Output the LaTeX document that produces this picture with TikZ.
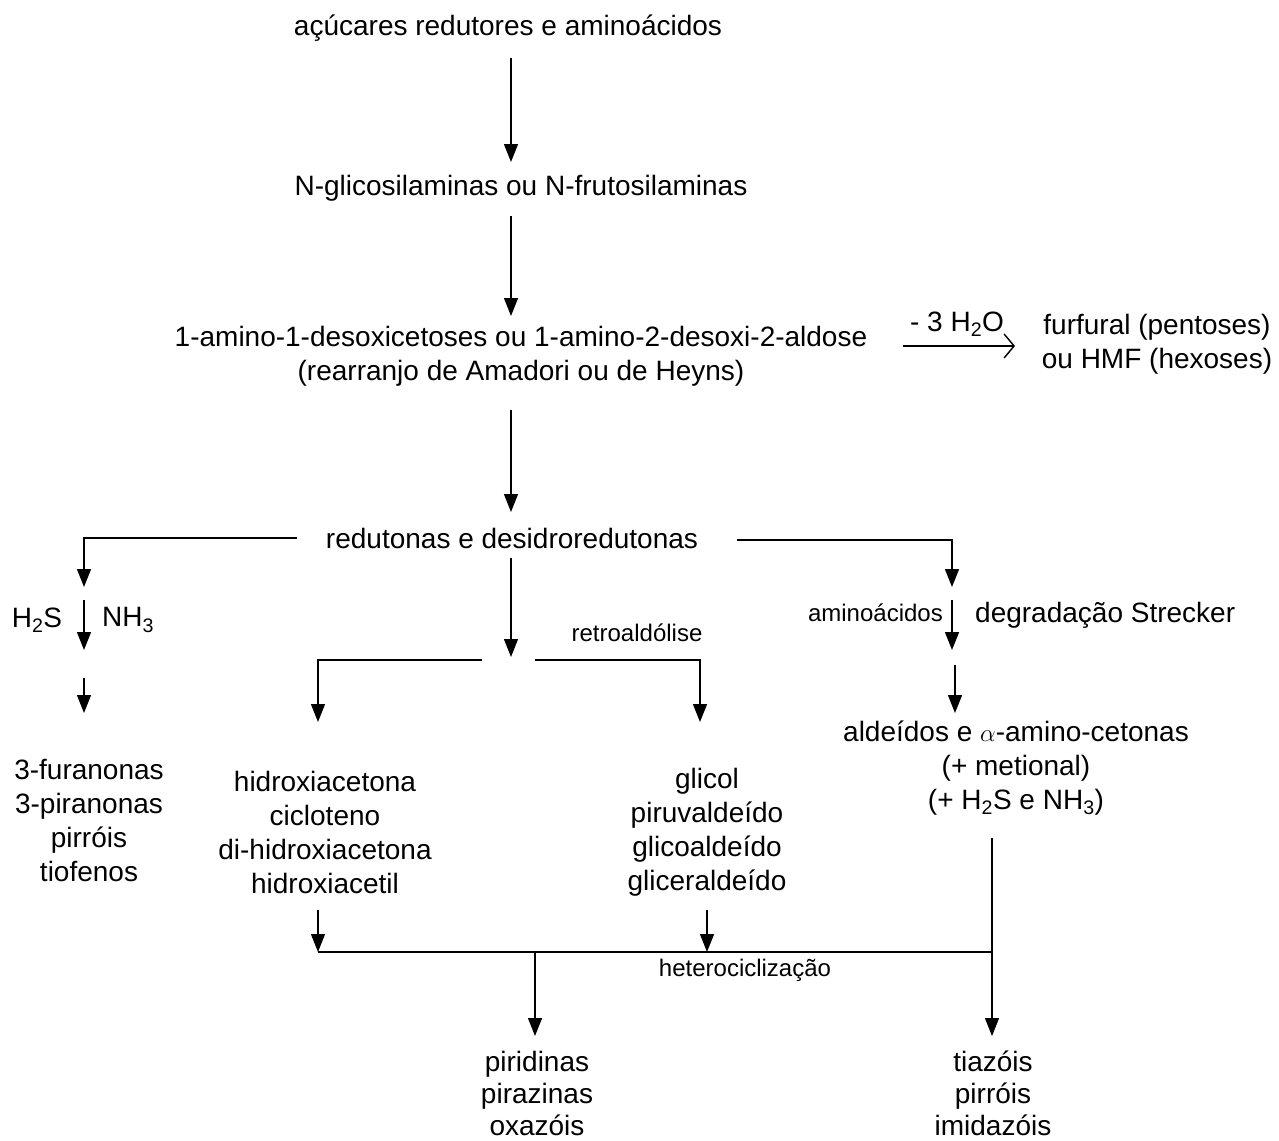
\documentclass[tikz,border=0pt]{standalone}
\usepackage{fontspec}
\setmainfont{Liberation Sans}
\usetikzlibrary{arrows.meta}
\tikzset{
  txt/.style={inner sep=0pt, align=center, font=\fontsize{28}{34}\selectfont},
  btxt/.style={inner sep=0pt, align=center, font=\fontsize{28}{32}\selectfont},
  lbl/.style={inner sep=0pt, align=center, font=\fontsize{24}{28}\selectfont},
  ln/.style={line width=1.4pt},
  arr/.style={ln, -{Triangle[length=18pt,width=14pt]}},
  oarr/.style={ln, -{Straight Barb[length=10pt,width=24pt,line width=1.4pt]}}
}
\begin{document}
\begin{tikzpicture}[x=1pt,y=-1pt]
\useasboundingbox (0,0) rectangle (1279,1140);
% nodes
\node[txt] (t1) at (508,28) {açúcares redutores e aminoácidos};
\node[txt] (t2) at (521,188) {N-glicosilaminas ou N-frutosilaminas};
\node[txt] (t3) at (521,356) {1-amino-1-desoxicetoses ou 1-amino-2-desoxi-2-aldose\\(rearranjo de Amadori ou de Heyns)};
\node[txt] (fur) at (1157,344) {furfural (pentoses)\\ou HMF (hexoses)};
\node[txt] (h2o) at (957,324) {- 3 H\textsubscript{2}O};
\node[txt] (red) at (512,538) {redutonas e desidroredutonas};
\node[txt] (h2s) at (37,620) {H\textsubscript{2}S};
\node[txt] (nh3) at (128,620) {NH\textsubscript{3}};
\node[txt] (fura) at (89,820) {3-furanonas\\3-piranonas\\pirróis\\tiofenos};
\node[lbl] (retro) at (637,633) {retroaldólise};
\node[lbl, anchor=east] (amino) at (943,613) {aminoácidos};
\node[txt, anchor=west] (streck) at (975,615) {degradação Strecker};
\node[txt] (ald) at (1016,768) {aldeídos e $\alpha$-amino-cetonas\\(+ metional)\\(+ H\textsubscript{2}S e NH\textsubscript{3})};
\node[txt] (hid) at (325,832) {hidroxiacetona\\cicloteno\\di-hidroxiacetona\\hidroxiacetil};
\node[txt] (gli) at (707,832) {glicol\\piruvaldeído\\glicoaldeído\\gliceraldeído};
\node[lbl] (het) at (745,970) {heterociclização};
\node[btxt] (pir) at (537,1093) {piridinas\\pirazinas\\oxazóis};
\node[btxt] (tia) at (993,1093) {tiazóis\\pirróis\\imidazóis};
% coordinates
\coordinate (a1s) at (511,58);   \coordinate (a1e) at (511,162);
\coordinate (a2s) at (511,216);  \coordinate (a2e) at (511,316);
\coordinate (hs) at (903,346);   \coordinate (he) at (1015,346);
\coordinate (a3s) at (511,410);  \coordinate (a3e) at (511,512);
\coordinate (L0) at (297,538);   \coordinate (L1) at (84,538); \coordinate (L2) at (84,587);
\coordinate (L3) at (84,600);    \coordinate (L4) at (84,650);
\coordinate (L5) at (84,678);    \coordinate (L6) at (84,713);
\coordinate (M0) at (511,558);   \coordinate (M1) at (511,657);
\coordinate (ML0) at (482,660);  \coordinate (ML1) at (318,660); \coordinate (ML2) at (318,722);
\coordinate (MR0) at (535,660);  \coordinate (MR1) at (700,660); \coordinate (MR2) at (700,722);
\coordinate (R0) at (737,540);   \coordinate (R1) at (952,540);  \coordinate (R2) at (952,587);
\coordinate (R3) at (952,600);   \coordinate (R4) at (952,650);
\coordinate (R5) at (955,665);   \coordinate (R6) at (955,713);
\coordinate (B1s) at (318,910);  \coordinate (B1e) at (318,952);
\coordinate (B2s) at (707,910);  \coordinate (B2e) at (707,952);
\coordinate (H0) at (318,952);   \coordinate (H1) at (992,952);
\coordinate (V0) at (992,838);   \coordinate (V1) at (992,1036);
\coordinate (P0) at (535,952);   \coordinate (P1) at (535,1036);
% connectors
\draw[arr] (a1s) -- (a1e);
\draw[arr] (a2s) -- (a2e);
\draw[oarr] (hs) -- (he);
\draw[arr] (a3s) -- (a3e);
\draw[arr] (L0) -- (L1) -- (L2);
\draw[arr] (L3) -- (L4);
\draw[arr] (L5) -- (L6);
\draw[arr] (M0) -- (M1);
\draw[arr] (ML0) -- (ML1) -- (ML2);
\draw[arr] (MR0) -- (MR1) -- (MR2);
\draw[arr] (R0) -- (R1) -- (R2);
\draw[arr] (R3) -- (R4);
\draw[arr] (R5) -- (R6);
\draw[arr] (B1s) -- (B1e);
\draw[arr] (B2s) -- (B2e);
\draw[ln] (H0) -- (H1);
\draw[arr] (V0) -- (V1);
\draw[arr] (P0) -- (P1);
\end{tikzpicture}
\end{document}
